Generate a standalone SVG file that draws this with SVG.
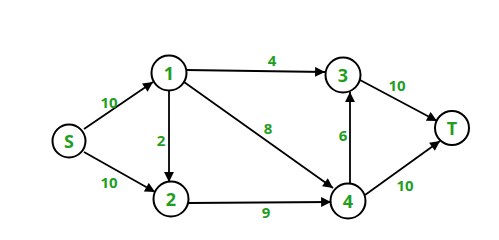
<svg xmlns="http://www.w3.org/2000/svg" width="499" height="240" viewBox="0 0 499 240">
<style>
.node circle{fill:#fff;stroke:#000;stroke-width:2}
.node text{fill:#1f9e1f;font-family:"Open Sans","Liberation Sans",sans-serif;font-weight:bold;font-size:18px;text-anchor:middle;dominant-baseline:central}
.edge line{stroke:#000;stroke-width:1.8;marker-end:url(#ah)}
.lbl{fill:#1f9e1f;font-family:"Open Sans","Liberation Sans",sans-serif;font-weight:bold;font-size:15px;text-anchor:middle;dominant-baseline:central}
</style>
<defs>
<marker id="ah" viewBox="0 0 10 10" refX="10" refY="5" markerWidth="6" markerHeight="5.5" orient="auto" markerUnits="strokeWidth">
<path d="M0,0 L10,5 L0,10 Z" fill="#000"/>
</marker>
</defs>
<rect width="499" height="240" fill="#fff"/>
<g id="connectors">
<g class="edge"><line x1="84" y1="129" x2="153" y2="82"/><text class="lbl" x="109" y="102">10</text></g>
<g class="edge"><line x1="84" y1="152" x2="155" y2="192"/><text class="lbl" x="109" y="182">10</text></g>
<g class="edge"><line x1="169" y1="90" x2="169" y2="182"/><text class="lbl" x="161" y="140">2</text></g>
<g class="edge"><line x1="186" y1="70" x2="325" y2="72"/><text class="lbl" x="272" y="60">4</text></g>
<g class="edge"><line x1="184" y1="82" x2="333" y2="188"/><text class="lbl" x="268" y="128">8</text></g>
<g class="edge"><line x1="188" y1="203" x2="331" y2="202"/><text class="lbl" x="266" y="212">9</text></g>
<g class="edge"><line x1="350" y1="185" x2="350" y2="92"/><text class="lbl" x="343" y="135">6</text></g>
<g class="edge"><line x1="360" y1="80" x2="437" y2="121"/><text class="lbl" x="397" y="85">10</text></g>
<g class="edge"><line x1="365" y1="195" x2="440" y2="141"/><text class="lbl" x="405" y="185">10</text></g>
</g>
<g id="node-S" class="node"><circle cx="69" cy="141" r="16.5"/><text x="69" y="141">S</text></g>
<g id="node-1" class="node"><circle cx="169" cy="73" r="17.5"/><text x="169" y="73">1</text></g>
<g id="node-2" class="node"><circle cx="171" cy="199" r="17.5"/><text x="171" y="199">2</text></g>
<g id="node-3" class="node"><circle cx="343" cy="75" r="17.5"/><text x="343" y="75">3</text></g>
<g id="node-4" class="node"><circle cx="348" cy="201" r="17.5"/><text x="348" y="201">4</text></g>
<g id="node-T" class="node"><circle cx="452" cy="128" r="17"/><text x="452" y="128">T</text></g>
</svg>
